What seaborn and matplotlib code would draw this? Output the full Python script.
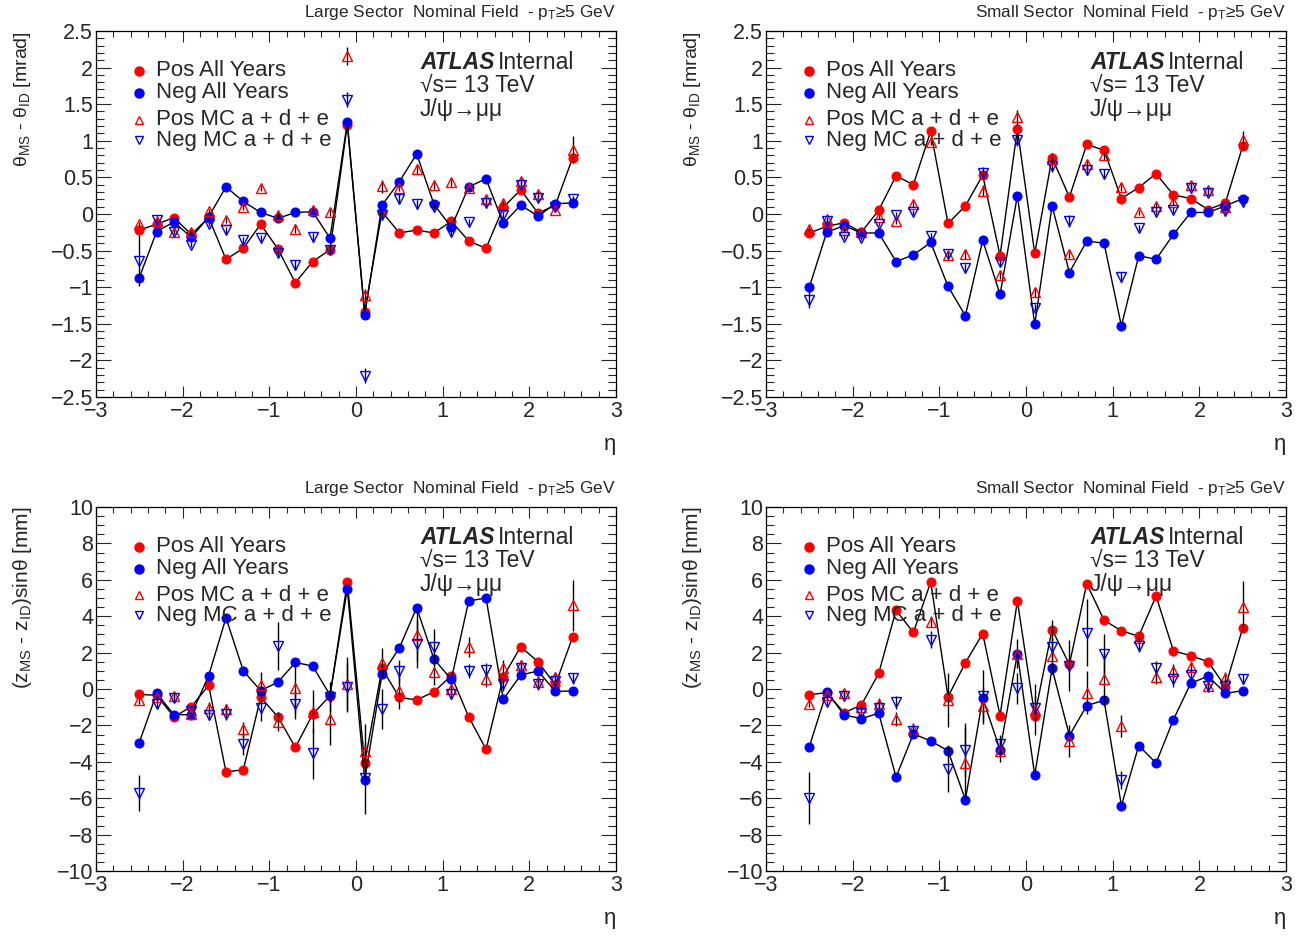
import numpy as np
import matplotlib
matplotlib.use("Agg")
import matplotlib.pyplot as plt
import seaborn as sns
from matplotlib.ticker import MultipleLocator, FuncFormatter

sns.set_style("ticks")
plt.rcParams['font.family'] = ['Liberation Sans', 'DejaVu Sans']
plt.rcParams['mathtext.fontset'] = 'custom'
plt.rcParams['mathtext.rm'] = 'Liberation Sans'
plt.rcParams['mathtext.it'] = 'Liberation Sans:italic'
plt.rcParams['mathtext.bf'] = 'Liberation Sans:bold'

# eta bin centres
eta = [-2.5, -2.3, -2.1, -1.9, -1.7, -1.5, -1.3, -1.1, -0.9, -0.7, -0.5, -0.3, -0.1,
       0.1, 0.3, 0.5, 0.7, 0.9, 1.1, 1.3, 1.5, 1.7, 1.9, 2.1, 2.3, 2.5]

# Large sector, theta [mrad]
ls_theta_pos = [-0.22, -0.14, -0.05, -0.28, -0.05, -0.62, -0.47, -0.14, -0.48, -0.94, -0.65, -0.49, 1.22,
                -1.34, 0.03, -0.26, -0.22, -0.26, -0.10, -0.37, -0.47, 0.09, 0.33, 0.01, 0.12, 0.77]
ls_theta_neg = [-0.87, -0.24, -0.11, -0.32, -0.04, 0.37, 0.17, 0.02, -0.06, 0.02, 0.03, -0.33, 1.25,
                -1.38, 0.12, 0.44, 0.82, 0.13, -0.18, 0.37, 0.48, -0.13, 0.12, -0.03, 0.14, 0.15]
ls_theta_pos_mc = [-0.14, -0.10, -0.24, -0.24, 0.04, -0.08, 0.10, 0.35, -0.01, -0.20, 0.06, 0.02, 2.16,
                   -1.11, 0.38, 0.36, 0.61, 0.39, 0.43, 0.36, 0.20, 0.15, 0.45, 0.27, 0.06, 0.88]
ls_theta_neg_mc = [-0.64, -0.08, -0.24, -0.42, -0.14, -0.22, -0.36, -0.33, -0.53, -0.70, -0.32, -0.49, 1.56,
                   -2.21, -0.01, 0.21, 0.13, 0.10, -0.25, -0.11, 0.15, -0.02, 0.40, 0.22, 0.10, 0.20]
ls_theta_pos_mc_err = [0.03, 0.03, 0.03, 0.03, 0.03, 0.04, 0.04, 0.04, 0.04, 0.06, 0.05, 0.05, 0.12,
                       0.09, 0.09, 0.05, 0.06, 0.05, 0.05, 0.04, 0.04, 0.04, 0.04, 0.04, 0.04, 0.19]
ls_theta_neg_mc_err = [0.35, 0.03, 0.03, 0.03, 0.03, 0.04, 0.04, 0.04, 0.04, 0.07, 0.06, 0.06, 0.10,
                       0.10, 0.05, 0.06, 0.06, 0.05, 0.05, 0.04, 0.04, 0.04, 0.04, 0.04, 0.04, 0.04]

# Small sector, theta [mrad]
ss_theta_pos = [-0.26, -0.17, -0.12, -0.25, 0.05, 0.52, 0.40, 1.13, -0.13, 0.11, 0.53, -0.57, 1.16,
                -0.54, 0.77, 0.23, 0.95, 0.87, 0.21, 0.36, 0.55, 0.26, 0.21, 0.06, 0.15, 0.93]
ss_theta_neg = [-1.00, -0.25, -0.16, -0.26, -0.26, -0.65, -0.56, -0.39, -0.99, -1.39, -0.36, -1.10, 0.25,
                -1.51, 0.11, -0.80, -0.37, -0.40, -1.53, -0.57, -0.62, -0.28, 0.02, 0.02, 0.11, 0.21]
ss_theta_pos_mc = [-0.20, -0.07, -0.22, -0.25, -0.04, -0.10, 0.13, 0.98, -0.56, -0.55, 0.32, -0.84, 1.32,
                   -1.07, 0.75, -0.55, 0.68, 0.80, 0.37, 0.02, 0.11, 0.16, 0.40, 0.33, 0.09, 1.01]
ss_theta_neg_mc = [-1.17, -0.10, -0.31, -0.33, -0.14, -0.01, 0.02, -0.30, -0.55, -0.74, 0.56, -0.66, 1.01,
                   -1.28, 0.65, -0.10, 0.60, 0.55, -0.86, -0.19, 0.03, 0.05, 0.35, 0.28, 0.04, 0.16]
ss_theta_pos_mc_err = [0.03, 0.03, 0.03, 0.03, 0.03, 0.04, 0.04, 0.04, 0.06, 0.06, 0.08, 0.05, 0.10,
                       0.06, 0.08, 0.05, 0.06, 0.06, 0.05, 0.04, 0.04, 0.04, 0.04, 0.04, 0.04, 0.12]
ss_theta_neg_mc_err = [0.12, 0.03, 0.03, 0.03, 0.03, 0.04, 0.04, 0.04, 0.05, 0.05, 0.08, 0.05, 0.08,
                       0.05, 0.08, 0.08, 0.07, 0.06, 0.07, 0.04, 0.04, 0.04, 0.04, 0.04, 0.04, 0.04]

# Large sector, z sin(theta) [mm]
ls_z_pos = [-0.29, -0.35, -1.53, -0.97, 0.20, -4.55, -4.44, -0.46, -1.53, -3.21, -1.39, -0.37, 5.86,
            -4.07, 1.13, -0.46, -0.60, -0.15, 0.73, -1.53, -3.31, 0.68, 2.32, 1.50, 0.22, 2.87]
ls_z_neg = [-2.94, -0.24, -1.41, -1.41, 0.73, 3.91, 1.00, -0.09, 0.38, 1.46, 1.26, -0.33, 5.50,
            -4.99, 0.80, 2.26, 4.47, 1.64, 0.53, 4.84, 5.00, -0.57, 0.77, 0.99, -0.13, -0.11]
ls_z_pos_mc = [-0.60, -0.42, -0.37, -1.39, -1.02, -1.11, -2.21, 0.22, -1.79, 0.07, -1.24, -1.66, 0.26,
               -3.43, 1.44, -0.11, 2.96, 0.95, 0.00, 2.30, 0.53, 1.17, 1.32, 0.40, 0.64, 4.60]
ls_z_neg_mc = [-5.72, -0.82, -0.47, -1.19, -1.42, -1.39, -3.03, -1.06, 2.36, -0.84, -3.53, -0.42, 0.13,
               -4.89, -1.10, 0.99, 2.48, 2.32, -0.27, 1.00, 1.04, 0.27, 1.13, 0.27, 0.44, 0.58]
ls_z_pos_mc_err = [0.2, 0.2, 0.2, 0.2, 0.3, 0.3, 0.4, 0.7, 0.5, 1.4, 1.2, 1.4, 1.5,
                   1.5, 0.8, 1.0, 1.4, 0.75, 0.3, 0.55, 0.4, 0.4, 0.3, 0.3, 0.3, 1.4]
ls_z_neg_mc_err = [1.0, 0.2, 0.2, 0.2, 0.3, 0.3, 0.6, 0.7, 1.3, 0.8, 1.4, 0.8, 1.3,
                   2.0, 1.1, 0.6, 1.3, 1.0, 0.3, 0.4, 0.4, 0.4, 0.3, 0.3, 0.3, 0.3]

# Small sector, z sin(theta) [mm]
ss_z_pos = [-0.31, -0.20, -1.30, -0.88, 0.86, 4.33, 3.11, 5.88, -0.42, 1.44, 3.05, -1.46, 4.84,
            -1.46, 3.27, 1.35, 5.79, 3.78, 3.20, 2.90, 5.11, 2.10, 1.83, 1.50, 0.13, 3.36]
ss_z_neg = [-3.16, -0.15, -1.42, -1.63, -1.33, -4.84, -2.47, -2.85, -3.40, -6.08, -0.51, -3.34, 1.94,
            -4.73, 1.13, -2.56, -0.91, -0.62, -6.41, -3.11, -4.07, -1.68, 0.31, 0.71, -0.24, -0.09]
ss_z_pos_mc = [-0.80, -0.33, -0.24, -0.97, -0.82, -1.64, -2.19, 3.69, -0.60, -4.07, -0.91, -3.40, 1.94,
               -1.15, 1.81, -2.85, -0.20, 0.55, -2.03, 2.83, 0.68, 1.00, 1.21, 0.16, 0.62, 4.51]
ss_z_neg_mc = [-5.99, -0.69, -0.37, -1.33, -1.06, -0.73, -2.30, 2.72, -4.38, -3.34, -0.37, -3.01, 0.04,
               -1.06, 2.32, 1.28, 3.09, 1.92, -4.99, 2.36, 1.13, 0.53, 0.77, 0.16, 0.18, 0.55]
ss_z_pos_mc_err = [0.2, 0.2, 0.2, 0.2, 0.3, 0.4, 0.3, 0.3, 1.5, 2.0, 1.0, 0.6, 0.8,
                   1.4, 1.0, 0.9, 1.2, 1.5, 0.6, 0.3, 0.4, 0.4, 0.3, 0.3, 0.3, 1.4]
ss_z_neg_mc_err = [1.45, 0.2, 0.2, 0.2, 0.3, 0.35, 0.3, 0.45, 1.3, 1.5, 1.4, 0.5, 0.85,
                   0.7, 1.5, 1.4, 1.85, 1.1, 0.5, 0.3, 0.4, 0.4, 0.3, 0.3, 0.3, 0.3]

legend_labels = ['Pos All Years', 'Neg All Years', 'Pos MC a + d + e', 'Neg MC a + d + e']
theta_label = 'θ$_{\\rm MS}$ - θ$_{\\rm ID}$ [mrad]'
z_label = '(z$_{\\rm MS}$ - z$_{\\rm ID}$)sinθ [mm]'
header_large = 'Large Sector  Nominal Field  - p$_{\\rm T}$≥5 GeV'
header_small = 'Small Sector  Nominal Field  - p$_{\\rm T}$≥5 GeV'


def root_fmt(v, pos):
    return ('%g' % v).replace('-', '\u2212')


def draw_panel(ax, pos, neg, pos_mc, neg_mc, pos_mc_err, neg_mc_err,
               ylim, ymaj, ymin, ylabel, ylabel_size, header):
    # data points joined by black lines
    sns.lineplot(x=eta, y=pos, ax=ax, color='k', lw=1, marker='o', markersize=6.5,
                 markerfacecolor='red', markeredgecolor='red', zorder=3)
    sns.lineplot(x=eta, y=neg, ax=ax, color='k', lw=1, marker='o', markersize=6.5,
                 markerfacecolor='blue', markeredgecolor='blue', zorder=3)
    # MC
    ax.errorbar(eta, pos_mc, yerr=pos_mc_err, fmt='^', ms=7, mfc='none', mec='red', mew=1,
                ecolor='k', elinewidth=1, capsize=0, zorder=4)
    ax.errorbar(eta, neg_mc, yerr=neg_mc_err, fmt='v', ms=7, mfc='none', mec='blue', mew=1,
                ecolor='k', elinewidth=1, capsize=0, zorder=4)

    ax.set_xlim(-3, 3)
    ax.set_ylim(*ylim)
    ax.xaxis.set_major_locator(MultipleLocator(1))
    ax.xaxis.set_minor_locator(MultipleLocator(0.2))
    ax.yaxis.set_major_locator(MultipleLocator(ymaj))
    ax.yaxis.set_minor_locator(MultipleLocator(ymin))
    ax.xaxis.set_major_formatter(FuncFormatter(root_fmt))
    ax.yaxis.set_major_formatter(FuncFormatter(root_fmt))
    ax.tick_params(axis='x', which='major', direction='in', length=8, width=0.8,
                   top=True, labelsize=15.5, pad=3)
    ax.tick_params(axis='x', which='minor', direction='in', length=4, width=0.8, top=True)
    ax.tick_params(axis='y', which='major', direction='in', length=11, width=0.8,
                   right=True, labelsize=15.5, pad=2)
    ax.tick_params(axis='y', which='minor', direction='in', length=5.5, width=0.8, right=True)
    for s in ax.spines.values():
        s.set_linewidth(0.9)
        s.set_color('k')
    ax.set_xlabel('')
    ax.set_ylabel('')

    ax.text(-0.142, 1.0, ylabel, transform=ax.transAxes, rotation=90,
            ha='center', va='top', fontsize=ylabel_size)
    ax.text(1.0, -0.13, 'η', transform=ax.transAxes, ha='right', va='center', fontsize=16)
    ax.text(1.0, 1.024, header, transform=ax.transAxes, ha='right', va='bottom', fontsize=12.4)

    # legend
    ly = [0.891, 0.831, 0.757, 0.702]
    styles = [dict(marker='o', mfc='red', mec='red', ms=6.5),
              dict(marker='o', mfc='blue', mec='blue', ms=6.5),
              dict(marker='^', mfc='none', mec='red', ms=6),
              dict(marker='v', mfc='none', mec='blue', ms=6)]
    for y, lab, st in zip(ly, legend_labels, styles):
        ax.plot([0.083], [y], transform=ax.transAxes, ls='none', clip_on=False, **st)
        ax.text(0.115, y, lab, transform=ax.transAxes, ha='left', va='center', fontsize=16)

    # ATLAS label
    ax.text(0.623, 0.915, 'ATLAS', transform=ax.transAxes, ha='left', va='center',
            fontsize=16.5, fontweight='bold', fontstyle='italic')
    ax.text(0.773, 0.915, 'Internal', transform=ax.transAxes, ha='left', va='center', fontsize=16.5)
    ax.text(0.623, 0.852, '√s= 13 TeV', transform=ax.transAxes, ha='left', va='center', fontsize=16.5)
    ax.text(0.623, 0.786, 'J/ψ→μμ', transform=ax.transAxes, ha='left', va='center', fontsize=16.5)


fig = plt.figure(figsize=(13.11, 9.40), dpi=100)
ax1 = fig.add_axes([0.0732, 0.5777, 0.3967, 0.3894])
ax2 = fig.add_axes([0.5843, 0.5777, 0.3967, 0.3894])
ax3 = fig.add_axes([0.0732, 0.0734, 0.3967, 0.3872])
ax4 = fig.add_axes([0.5843, 0.0734, 0.3967, 0.3872])

draw_panel(ax1, ls_theta_pos, ls_theta_neg, ls_theta_pos_mc, ls_theta_neg_mc,
           ls_theta_pos_mc_err, ls_theta_neg_mc_err, (-2.5, 2.5), 0.5, 0.1, theta_label, 14, header_large)
draw_panel(ax2, ss_theta_pos, ss_theta_neg, ss_theta_pos_mc, ss_theta_neg_mc,
           ss_theta_pos_mc_err, ss_theta_neg_mc_err, (-2.5, 2.5), 0.5, 0.1, theta_label, 14, header_small)
draw_panel(ax3, ls_z_pos, ls_z_neg, ls_z_pos_mc, ls_z_neg_mc,
           ls_z_pos_mc_err, ls_z_neg_mc_err, (-10, 10), 2, 0.5, z_label, 15, header_large)
draw_panel(ax4, ss_z_pos, ss_z_neg, ss_z_pos_mc, ss_z_neg_mc,
           ss_z_pos_mc_err, ss_z_neg_mc_err, (-10, 10), 2, 0.5, z_label, 15, header_small)

fig.savefig('out.png', dpi=100, facecolor='white')
